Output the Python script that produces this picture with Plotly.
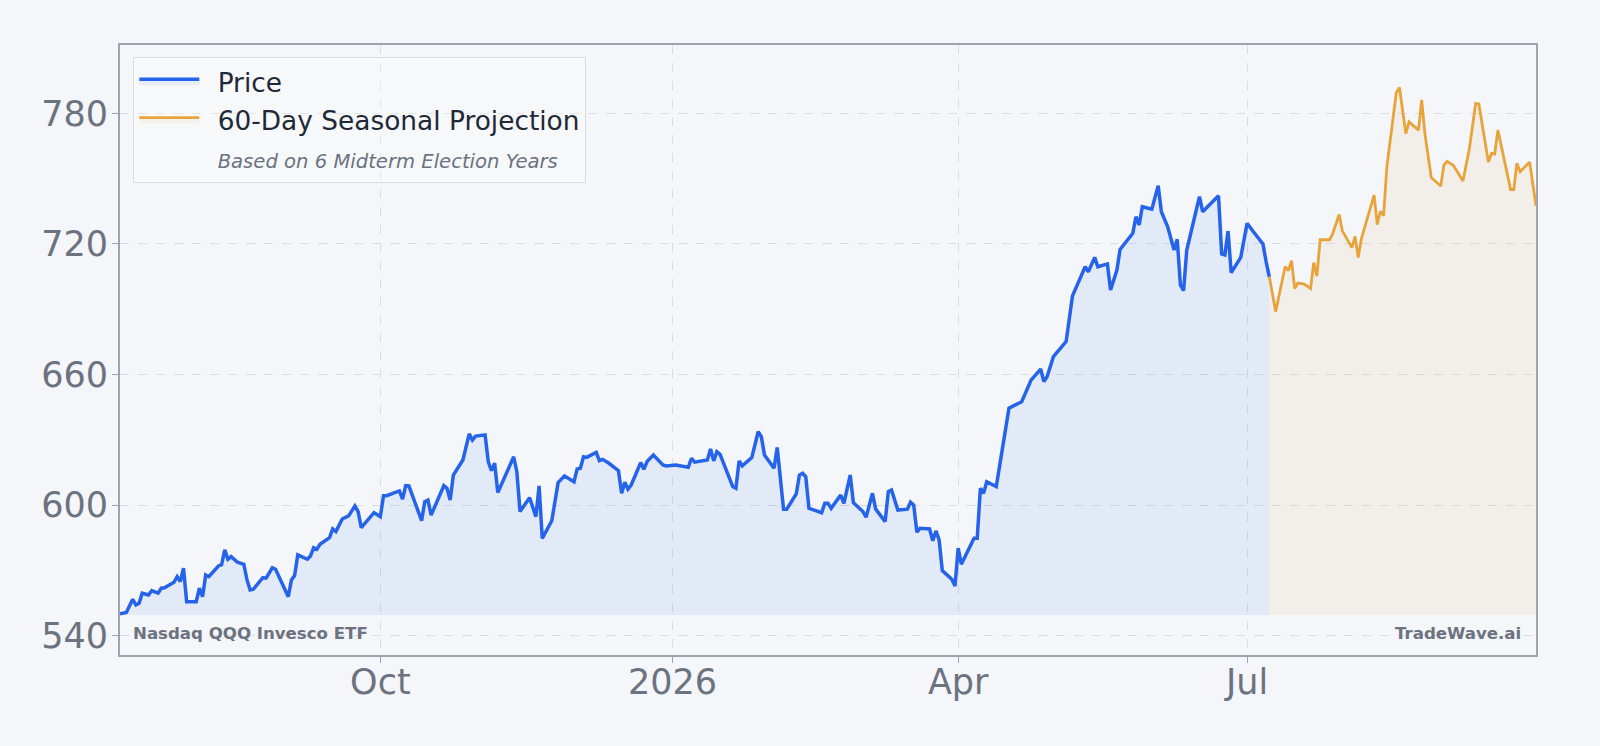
import pandas as pd
import plotly.graph_objects as go

START_DATE = "2025-07-11"

# trading-day offsets (calendar days from START_DATE) and closing prices
price_day = [
    0, 2, 4, 5, 6, 7, 9, 10, 12, 13,
    14, 17, 18, 19, 20, 21, 24, 25, 26, 27,
    28, 31, 32, 33, 34, 35, 37, 39, 40, 41,
    42, 45, 46, 48, 49, 53, 54, 55, 56, 59,
    60, 61, 62, 63, 66, 67, 68, 70, 72, 74,
    75, 76, 80, 82, 83, 84, 88, 89, 90, 91,
    95, 96, 97, 98, 102, 103, 104, 105, 108, 110,
    111, 112, 115, 116, 117, 118, 119, 122, 124, 125,
    126, 129, 131, 132, 133, 136, 138, 140, 143, 144,
    145, 146, 147, 150, 151, 152, 154, 157, 158, 159,
    160, 161, 164, 165, 166, 168, 171, 172, 175, 179,
    180, 181, 185, 186, 187, 188, 189, 193, 194, 195,
    196, 199, 201, 202, 203, 206, 207, 209, 210, 213,
    214, 215, 216, 217, 221, 222, 223, 224, 227, 228,
    230, 231, 234, 235, 237, 238, 241, 242, 243, 245,
    248, 249, 250, 251, 252, 255, 256, 257, 258, 259,
    262, 263, 264, 265, 269, 270, 271, 272, 273, 276,
    280, 284, 287, 290, 291, 292, 294, 298, 300, 304,
    305, 307, 308, 311, 312, 314, 315, 319, 320, 321,
    322, 325, 327, 328, 330, 332, 333, 334, 335, 336,
    340, 341, 346, 347, 348, 349, 350, 353, 355, 357,
    360, 361, 362,
]
price_val = [
    550.0, 550.6, 556.7, 554.1, 554.9, 559.5, 558.7, 560.7, 559.5, 561.8,
    562.0, 564.5, 567.1, 564.8, 571.0, 555.6, 555.6, 561.8, 557.9, 567.9,
    567.1, 572.0, 572.6, 579.4, 575.1, 576.3, 573.7, 572.8, 565.6, 561.0,
    561.3, 566.6, 566.4, 571.2, 570.5, 557.9, 565.6, 567.6, 577.1, 575.1,
    576.6, 580.4, 579.7, 582.0, 585.0, 589.0, 587.8, 593.6, 595.0, 599.6,
    597.0, 589.6, 596.5, 594.7, 604.3, 604.3, 606.5, 602.7, 608.9, 608.8,
    592.8, 601.6, 602.3, 595.4, 608.9, 607.7, 602.3, 613.8, 620.7, 632.7,
    629.9, 631.7, 632.2, 619.9, 615.8, 619.2, 605.7, 615.3, 622.2, 615.3,
    597.0, 603.4, 594.7, 608.8, 584.7, 592.8, 610.3, 613.4, 610.7, 616.6,
    616.9, 622.2, 621.9, 624.2, 620.4, 621.0, 619.2, 615.8, 605.4, 610.5,
    607.3, 609.2, 619.5, 616.4, 620.0, 623.0, 618.4, 618.0, 618.4, 617.4,
    621.5, 619.7, 620.7, 625.8, 620.3, 624.5, 623.3, 608.5, 607.7, 620.3,
    618.0, 621.8, 633.7, 631.4, 623.0, 616.9, 626.5, 598.1, 598.1, 605.1,
    613.8, 614.6, 613.0, 598.5, 596.5, 600.8, 600.8, 598.5, 604.6, 600.8,
    613.8, 601.1, 597.0, 594.4, 605.4, 598.2, 592.4, 606.2, 606.9, 597.7,
    598.1, 601.3, 600.0, 587.5, 589.3, 589.0, 583.6, 588.1, 584.0, 569.9,
    565.9, 562.8, 580.2, 572.8, 584.7, 584.7, 607.7, 605.4, 610.7, 608.5,
    644.5, 647.5, 657.5, 662.5, 656.7, 659.0, 668.2, 675.1, 696.1, 709.5,
    707.2, 713.8, 709.5, 710.8, 698.8, 708.0, 717.5, 724.9, 732.5, 728.7,
    737.1, 736.0, 746.7, 734.8, 727.9, 717.2, 722.1, 701.1, 698.5, 717.2,
    741.7, 734.8, 742.1, 715.4, 714.9, 725.9, 706.8, 713.8, 729.5, 725.6,
    720.0, 711.8, 704.9,
]

# 60-day seasonal projection
proj_day = [
    362, 364, 367, 368, 369, 370, 371, 373, 375, 376,
    377, 378, 381, 382, 384, 385, 388, 389, 390, 391,
    395, 396, 397, 398, 399, 402, 403, 405, 406, 409,
    410, 411, 413, 416, 417, 418, 420, 423, 425, 427,
    428, 431, 432, 433, 434, 438, 439, 440, 441, 444,
    446,
]
proj_val = [
    704.9, 688.9, 709.6, 707.7, 712.3, 699.5, 702.0, 701.5, 699.5, 711.4,
    705.2, 721.9, 721.9, 724.9, 733.5, 726.0, 718.3, 723.5, 713.7, 722.4,
    742.4, 728.9, 735.0, 733.0, 755.1, 789.5, 791.9, 770.7, 776.1, 772.3,
    786.2, 770.7, 750.5, 746.6, 756.3, 757.9, 756.0, 748.9, 763.6, 784.6,
    784.3, 757.6, 761.7, 761.3, 772.3, 745.0, 745.0, 757.1, 753.2, 757.6,
    737.5,
]

y_tick_vals = [540, 600, 660, 720, 780]
x_tick_dates = ["2025-10-01", "2026-01-01", "2026-04-01", "2026-07-01"]
x_tick_text = ["Oct", "2026", "Apr", "Jul"]

assert len(price_day) == len(price_val)
assert len(proj_day) == len(proj_val)

start = pd.Timestamp(START_DATE)
price_x = [start + pd.Timedelta(days=d) for d in price_day]
proj_x = [start + pd.Timedelta(days=d) for d in proj_day]

base = min(price_val + proj_val) * 0.999

BLUE = "#2563eb"
ORANGE = "#e8a33a"
BG = "#f4f6f9"
GRAY = "#6b7280"
FONT = "DejaVu Sans"
PAD = "<span style='font-size:21px'>&nbsp;&nbsp;</span>"

fig = go.Figure()

fig.add_trace(go.Scatter(x=[price_x[0], price_x[-1]], y=[base, base], mode="lines",
                         line=dict(width=0, color="rgba(0,0,0,0)"), showlegend=False,
                         hoverinfo="skip"))
fig.add_trace(go.Scatter(x=price_x, y=price_val, mode="lines", name=PAD + "Price",
                         line=dict(color=BLUE, width=3.5), fill="tonexty",
                         fillcolor="rgba(37,99,235,0.08)", legendgroup="a"))
fig.add_trace(go.Scatter(x=[proj_x[0], proj_x[-1]], y=[base, base], mode="lines",
                         line=dict(width=0, color="rgba(0,0,0,0)"), showlegend=False,
                         hoverinfo="skip"))
fig.add_trace(go.Scatter(x=proj_x, y=proj_val, mode="lines",
                         name=PAD + "60-Day Seasonal Projection",
                         line=dict(color=ORANGE, width=2.8), fill="tonexty",
                         fillcolor="rgba(232,163,58,0.08)", legendgroup="b"))
fig.add_trace(go.Scatter(x=[price_x[0]], y=[None], mode="lines",
                         name=PAD + "<span style='font-size:19.6px;color:#6b7280'><i>Based on 6 Midterm Election Years</i></span>",
                         line=dict(width=0, color="rgba(0,0,0,0)"), legendgroup="c",
                         hoverinfo="skip"))

axis_common = dict(
    showline=True, linecolor="#9ea3ae", linewidth=2, mirror=True,
    showgrid=True, gridcolor="#d9dde3", gridwidth=1, griddash="dash",
    ticks="outside", ticklen=6, tickcolor="#9ea3ae",
    tickfont=dict(family=FONT, size=35, color=GRAY), zeroline=False,
)

fig.update_xaxes(range=[price_x[0], proj_x[-1]], tickvals=x_tick_dates, ticktext=x_tick_text,
                 ticklabelstandoff=-11, **axis_common)
fig.update_yaxes(range=[531.1, 811.4], tickvals=y_tick_vals, ticklabelstandoff=-3,
                 **axis_common)

fig.add_annotation(xref="paper", yref="paper", x=0.008, y=0.035, xanchor="left", yanchor="middle",
                   text="<b>Nasdaq QQQ Invesco ETF</b>", showarrow=False,
                   font=dict(family=FONT, size=16.6, color=GRAY))
fig.add_annotation(xref="paper", yref="paper", x=0.991, y=0.035, xanchor="right", yanchor="middle",
                   text="<b>TradeWave.ai</b>", showarrow=False,
                   font=dict(family=FONT, size=16.6, color=GRAY))

fig.update_layout(
    width=1600, height=746, autosize=False,
    paper_bgcolor=BG, plot_bgcolor=BG,
    margin=dict(l=120, r=64, t=45, b=91),
    font=dict(family=FONT, color="#1f2937"),
    showlegend=True,
    legend=dict(x=0.0094, y=0.981, xanchor="left", yanchor="top",
                bgcolor="rgba(255,255,255,0.25)", bordercolor="#d9dde3", borderwidth=1,
                font=dict(family=FONT, size=26.4, color="#1f2937"),
                tracegroupgap=1, itemwidth=60),
    hovermode=False,
)

fig.write_html("out.html", config={"displayModeBar": False})
